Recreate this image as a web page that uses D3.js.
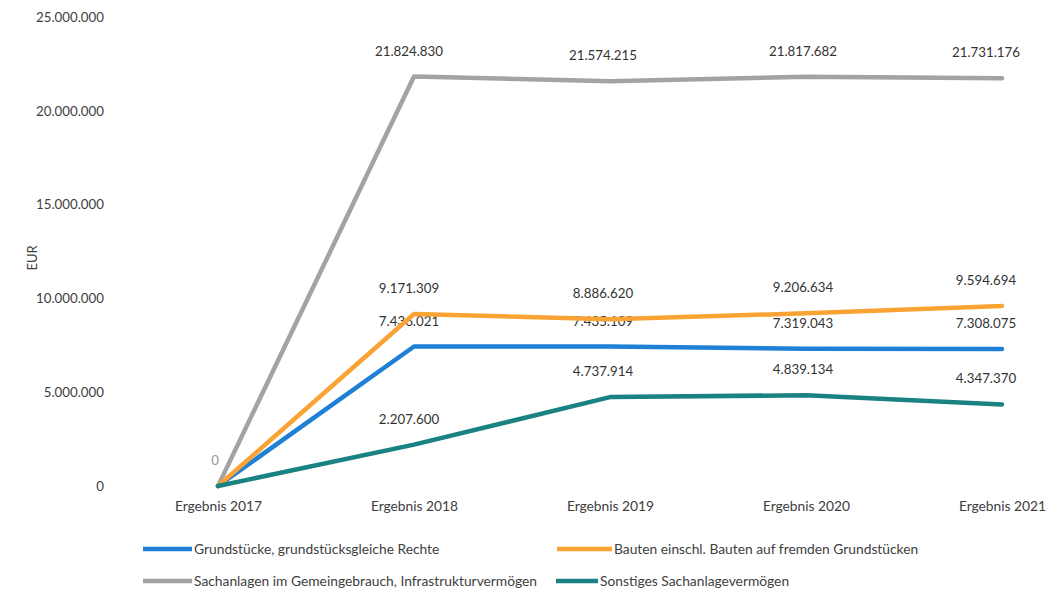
<!DOCTYPE html>
<html>
<head>
<meta charset="utf-8">
<script src="https://cdn.jsdelivr.net/npm/d3@7"></script>
<style>
  html, body { margin: 0; padding: 0; background: #fff; }
  svg { display: block; font-family: Lato, "Open Sans", sans-serif; }
</style>
</head>
<body>
<svg id="chart" width="1047" height="591"></svg>
<script>
const categories = ["Ergebnis 2017", "Ergebnis 2018", "Ergebnis 2019", "Ergebnis 2020", "Ergebnis 2021"];
const seriesNames = [
  "Grundstücke, grundstücksgleiche Rechte",
  "Bauten einschl. Bauten auf fremden Grundstücken",
  "Sachanlagen im Gemeingebrauch, Infrastrukturvermögen",
  "Sonstiges Sachanlagevermögen"
];
const grundstuecke = [0, 7436021, 7435109, 7319043, 7308075];
const bauten = [0, 9171309, 8886620, 9206634, 9594694];
const sachanlagenGemein = [0, 21824830, 21574215, 21817682, 21731176];
const sonstiges = [0, 2207600, 4737914, 4839134, 4347370];
const yTicks = [0, 5000000, 10000000, 15000000, 20000000, 25000000];
const colors = ["#1f80d6", "#f9a335", "#a3a3a3", "#1a8282"];

const seriesValues = [grundstuecke, bauten, sachanlagenGemein, sonstiges];
const fmt = v => d3.format(",")(v).replace(/,/g, ".");

const svg = d3.select("#chart");
const x = d3.scalePoint().domain(categories).range([218, 1002]);
const y = d3.scaleLinear().domain([0, 25000000]).range([486, 17]);

// y axis
const yAxis = d3.axisLeft(y).tickValues(yTicks).tickFormat(fmt).tickSize(0).tickPadding(0);
const yg = svg.append("g").attr("transform", "translate(104,0)").call(yAxis);
yg.select(".domain").remove();
yg.selectAll("text").attr("font-size", 13.3).attr("fill", "#404040").attr("font-family", "Lato, sans-serif");

svg.append("text")
  .attr("transform", "translate(37,258) rotate(-90)")
  .attr("text-anchor", "middle")
  .attr("font-size", 13).attr("fill", "#404040")
  .text("EUR");

// x axis
const xAxis = d3.axisBottom(x).tickSize(0).tickPadding(0);
const xg = svg.append("g").attr("transform", "translate(0,501)").call(xAxis);
xg.select(".domain").remove();
xg.selectAll("text").attr("font-size", 13.8).attr("fill", "#404040").attr("font-family", "Lato, sans-serif");

const line = d3.line().x((d, i) => x(categories[i])).y(d => y(d));

// data labels (drawn beneath lines, as in the reference)
const labelOffsets = [0, -5, -7, -3, -16];
const drawOrder = [2, 0, 1, 3];
drawOrder.forEach(s => {
  seriesValues[s].forEach((v, i) => {
    if (i === 0 && s !== 2) return;
    svg.append("text")
      .attr("x", x(categories[i]) + (i === 0 ? -3 : labelOffsets[i]))
      .attr("y", y(v) - 21)
      .attr("text-anchor", "middle")
      .attr("font-size", 13.3)
      .attr("fill", i === 0 ? "#999" : "#333")
      .text(fmt(v));
  });
});

drawOrder.forEach(s => {
  svg.append("path")
    .datum(seriesValues[s])
    .attr("d", line)
    .attr("fill", "none")
    .attr("stroke", colors[s])
    .attr("stroke-width", 4.5)
    .attr("stroke-linejoin", "round")
    .attr("stroke-linecap", "round");
});

// legend
const legendItems = [
  { s: 0, x1: 143, x2: 192, tx: 194, y: 549 },
  { s: 1, x1: 557, x2: 612, tx: 614, y: 549 },
  { s: 2, x1: 143, x2: 192, tx: 194, y: 581 },
  { s: 3, x1: 556, x2: 598, tx: 600, y: 581 }
];
legendItems.forEach(it => {
  svg.append("line")
    .attr("x1", it.x1).attr("x2", it.x2)
    .attr("y1", it.y).attr("y2", it.y)
    .attr("stroke", colors[it.s]).attr("stroke-width", 4.5);
  svg.append("text")
    .attr("x", it.tx).attr("y", it.y + 4.5)
    .attr("font-size", 13.8).attr("fill", "#404040")
    .text(seriesNames[it.s]);
});
</script>
</body>
</html>
